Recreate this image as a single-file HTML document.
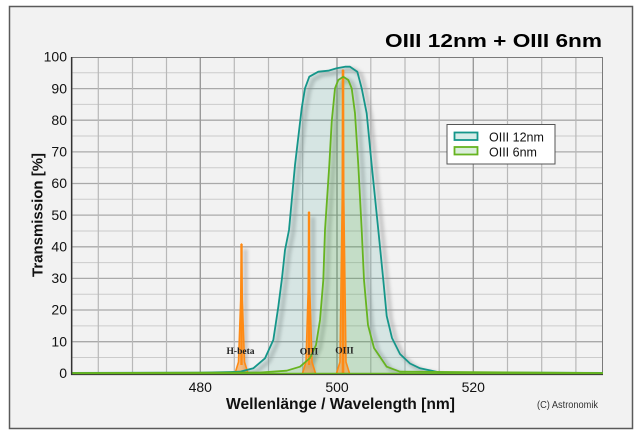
<!DOCTYPE html>
<html><head><meta charset="utf-8"><style>
html,body{margin:0;padding:0;background:#fff;}
svg{display:block;font-family:"Liberation Sans",sans-serif;}
</style></head><body>
<svg width="641" height="442" viewBox="0 0 641 442" xmlns="http://www.w3.org/2000/svg">
<defs>
<filter id="sh" x="-20%" y="-20%" width="140%" height="140%">
<feGaussianBlur stdDeviation="1.8"/>
</filter>
<clipPath id="pc"><rect x="72" y="57" width="531" height="317"/></clipPath>
</defs>
<rect x="9.5" y="6.5" width="623" height="422" fill="#f2f2f2" stroke="#5a5a5a" stroke-width="1.5"/>
<text x="602" y="47" font-size="18" font-weight="bold" text-anchor="end" textLength="217" lengthAdjust="spacingAndGlyphs" fill="#000">OIII 12nm + OIII 6nm</text>
<!-- grid -->
<g stroke="#cbcbcb" stroke-width="1">
<line x1="72" x2="603" y1="357.5" y2="357.5"/><line x1="72" x2="603" y1="325.9" y2="325.9"/><line x1="72" x2="603" y1="294.2" y2="294.2"/><line x1="72" x2="603" y1="262.6" y2="262.6"/><line x1="72" x2="603" y1="231" y2="231"/><line x1="72" x2="603" y1="199.3" y2="199.3"/><line x1="72" x2="603" y1="167.7" y2="167.7"/><line x1="72" x2="603" y1="136" y2="136"/><line x1="72" x2="603" y1="104.4" y2="104.4"/><line x1="72" x2="603" y1="72.8" y2="72.8"/>
</g>
<g stroke="#a9a9a9" stroke-width="1.3">
<line x1="72" x2="603" y1="341.7" y2="341.7"/><line x1="72" x2="603" y1="310" y2="310"/><line x1="72" x2="603" y1="278.4" y2="278.4"/><line x1="72" x2="603" y1="246.8" y2="246.8"/><line x1="72" x2="603" y1="215.1" y2="215.1"/><line x1="72" x2="603" y1="183.5" y2="183.5"/><line x1="72" x2="603" y1="151.9" y2="151.9"/><line x1="72" x2="603" y1="120.2" y2="120.2"/><line x1="72" x2="603" y1="88.6" y2="88.6"/>
</g>
<g stroke="#b8b8b8" stroke-width="1.2">
<line x1="98.3" x2="98.3" y1="57" y2="373"/><line x1="132.5" x2="132.5" y1="57" y2="373"/><line x1="166.5" x2="166.5" y1="57" y2="373"/><line x1="234.3" x2="234.3" y1="57" y2="373"/><line x1="268.5" x2="268.5" y1="57" y2="373"/><line x1="302.7" x2="302.7" y1="57" y2="373"/><line x1="370.8" x2="370.8" y1="57" y2="373"/><line x1="405" x2="405" y1="57" y2="373"/><line x1="439.2" x2="439.2" y1="57" y2="373"/><line x1="507.5" x2="507.5" y1="57" y2="373"/><line x1="541.7" x2="541.7" y1="57" y2="373"/><line x1="575.9" x2="575.9" y1="57" y2="373"/>
</g>
<g stroke="#9a9a9a" stroke-width="1.4">
<line x1="200.3" x2="200.3" y1="57" y2="373"/><line x1="337" x2="337" y1="57" y2="373"/><line x1="473.3" x2="473.3" y1="57" y2="373"/>
</g>
<rect x="72" y="57.5" width="530.5" height="316" fill="none" stroke="#7a7a7a" stroke-width="1"/>
<g clip-path="url(#pc)">
<!-- shadows -->
<g transform="translate(4,3)" filter="url(#sh)" fill="none" stroke="#999" stroke-opacity="0.55" stroke-width="4">
<polyline points="240,371.7 253.3,368.3 265,358.3 273.3,340 278.3,306.7 282,278 285,250 289,230 295,165 301.7,108.3 305,88.3 309.3,76.7 318.3,71.7 328.3,70.7 336.7,68.3 345,66.7 350,66.7 357.3,71.7 361.7,88.3 366.7,113.3 371.7,165 378.3,230 383.3,280 386.7,316 392,338 400,354 410,363.5 420,368.3 440,372.5"/>
<polyline points="300,366.7 310,358 316,345 320,320 323.3,280 325,230 329.3,165 331.7,121.7 335,88.3 338.3,80 343.3,76.7 348.3,80 351.7,88.3 355,113.3 358.3,165 361.7,230 364,280 368,325 374,348 386.7,366.7 400,371.7"/>
<line x1="241.5" y1="246" x2="241.5" y2="372"/><line x1="309" y1="214" x2="309" y2="372"/>
</g>
<!-- fills -->
<polygon fill="#1e9682" fill-opacity="0.13" points="72,373 200,372.6 230,372 240,371.7 253.3,368.3 265,358.3 273.3,340 278.3,306.7 282,278 285,250 289,230 295,165 301.7,108.3 305,88.3 309.3,76.7 318.3,71.7 328.3,70.7 336.7,68.3 345,66.7 350,66.7 357.3,71.7 361.7,88.3 366.7,113.3 371.7,165 378.3,230 383.3,280 386.7,316 392,338 400,354 410,363.5 420,368.3 440,372.5 603,373"/>
<polygon fill="#5cb01e" fill-opacity="0.14" points="72,373 260,372.5 286.7,370.7 300,366.7 310,358 316,345 320,320 323.3,280 325,230 329.3,165 331.7,121.7 335,88.3 338.3,80 343.3,76.7 348.3,80 351.7,88.3 355,113.3 358.3,165 361.7,230 364,280 368,325 374,348 386.7,366.7 400,371.7 603,373"/>
<!-- emission lines -->
<g fill="#f39a3a" fill-opacity="0.6" stroke="#ff8a14" stroke-width="1.6" stroke-linejoin="round">
<path d="M235,373.3 L238.5,362 L240.7,300 L241.5,244 L242.3,300 L244.5,362 L248,373.3"/>
<path d="M302.5,373.3 L306,362 L308.2,290 L309,212 L309.8,290 L312,362 L315.5,373.3"/>
<path d="M336.5,373.3 L340,362 L342.2,200 L343,70 L343.8,200 L346,362 L349.5,373.3"/>
</g>
<line x1="343" y1="70" x2="343" y2="373" stroke="#ff8a14" stroke-width="2.6"/>
<line x1="309" y1="212" x2="309" y2="365" stroke="#ff8a14" stroke-width="2.4"/>
<line x1="241.5" y1="244" x2="241.5" y2="365" stroke="#ff8a14" stroke-width="2.4"/>
<!-- curves -->
<polyline fill="none" stroke="#15968a" stroke-width="1.8" stroke-linejoin="round" points="72,372.9 200,372.6 230,372 240,371.7 253.3,368.3 265,358.3 273.3,340 278.3,306.7 282,278 285,250 289,230 295,165 301.7,108.3 305,88.3 309.3,76.7 318.3,71.7 328.3,70.7 336.7,68.3 345,66.7 350,66.7 357.3,71.7 361.7,88.3 366.7,113.3 371.7,165 378.3,230 383.3,280 386.7,316 392,338 400,354 410,363.5 420,368.3 440,372.5 603,372.9"/>
<polyline fill="none" stroke="#66b420" stroke-width="1.8" stroke-linejoin="round" points="72,373 260,372.5 286.7,370.7 300,366.7 310,358 316,345 320,320 323.3,280 325,230 329.3,165 331.7,121.7 335,88.3 338.3,80 343.3,76.7 348.3,80 351.7,88.3 355,113.3 358.3,165 361.7,230 364,280 368,325 374,348 386.7,366.7 400,371.7 603,373"/>
</g>
<line x1="72" y1="373.6" x2="603" y2="373.6" stroke="#66b420" stroke-width="1.6"/>
<line x1="71.6" y1="57" x2="71.6" y2="374.5" stroke="#333" stroke-width="1.4"/>
<line x1="71" y1="374.6" x2="603" y2="374.6" stroke="#333" stroke-width="1"/>
<!-- emission labels -->
<g font-family="Liberation Serif,serif" font-size="9.5" font-weight="bold" fill="#222" text-anchor="middle">
<text x="240.5" y="354">H-beta</text>
<text x="309" y="354.5">OIII</text>
<text x="344.5" y="353.5">OIII</text>
</g>
<!-- y ticks -->
<g font-size="14" fill="#111" text-anchor="end">
<text x="67" y="378">0</text><text x="67" y="346.4">10</text><text x="67" y="314.7">20</text><text x="67" y="283.1">30</text><text x="67" y="251.5">40</text><text x="67" y="219.8">50</text><text x="67" y="188.2">60</text><text x="67" y="156.6">70</text><text x="67" y="124.9">80</text><text x="67" y="93.3">90</text><text x="67" y="61.7">100</text>
</g>
<g font-size="14" fill="#111" text-anchor="middle">
<text x="200.3" y="392">480</text><text x="337" y="392">500</text><text x="473.3" y="392">520</text>
</g>
<text x="226" y="409" font-size="15.5" font-weight="bold" textLength="229" lengthAdjust="spacingAndGlyphs" fill="#111">Wellenlänge / Wavelength [nm]</text>
<text transform="translate(42.5,215) rotate(-90)" font-size="14.5" font-weight="bold" text-anchor="middle" textLength="124" lengthAdjust="spacingAndGlyphs" fill="#111">Transmission [%]</text>
<text x="537" y="408" font-size="10" textLength="61" lengthAdjust="spacingAndGlyphs" fill="#333">(C) Astronomik</text>
<!-- legend -->
<rect x="447" y="124.5" width="108" height="39.5" fill="#ffffff" stroke="#555" stroke-width="1"/>
<rect x="454.5" y="132.5" width="23" height="7.5" fill="#d7ece8" stroke="#15968a" stroke-width="1.8"/>
<rect x="454.5" y="147" width="23" height="7.5" fill="#dbeedb" stroke="#66b420" stroke-width="1.8"/>
<g font-size="12.5" fill="#111">
<text x="489" y="141.5">OIII 12nm</text>
<text x="489" y="156.5">OIII 6nm</text>
</g>
</svg>
</body></html>
